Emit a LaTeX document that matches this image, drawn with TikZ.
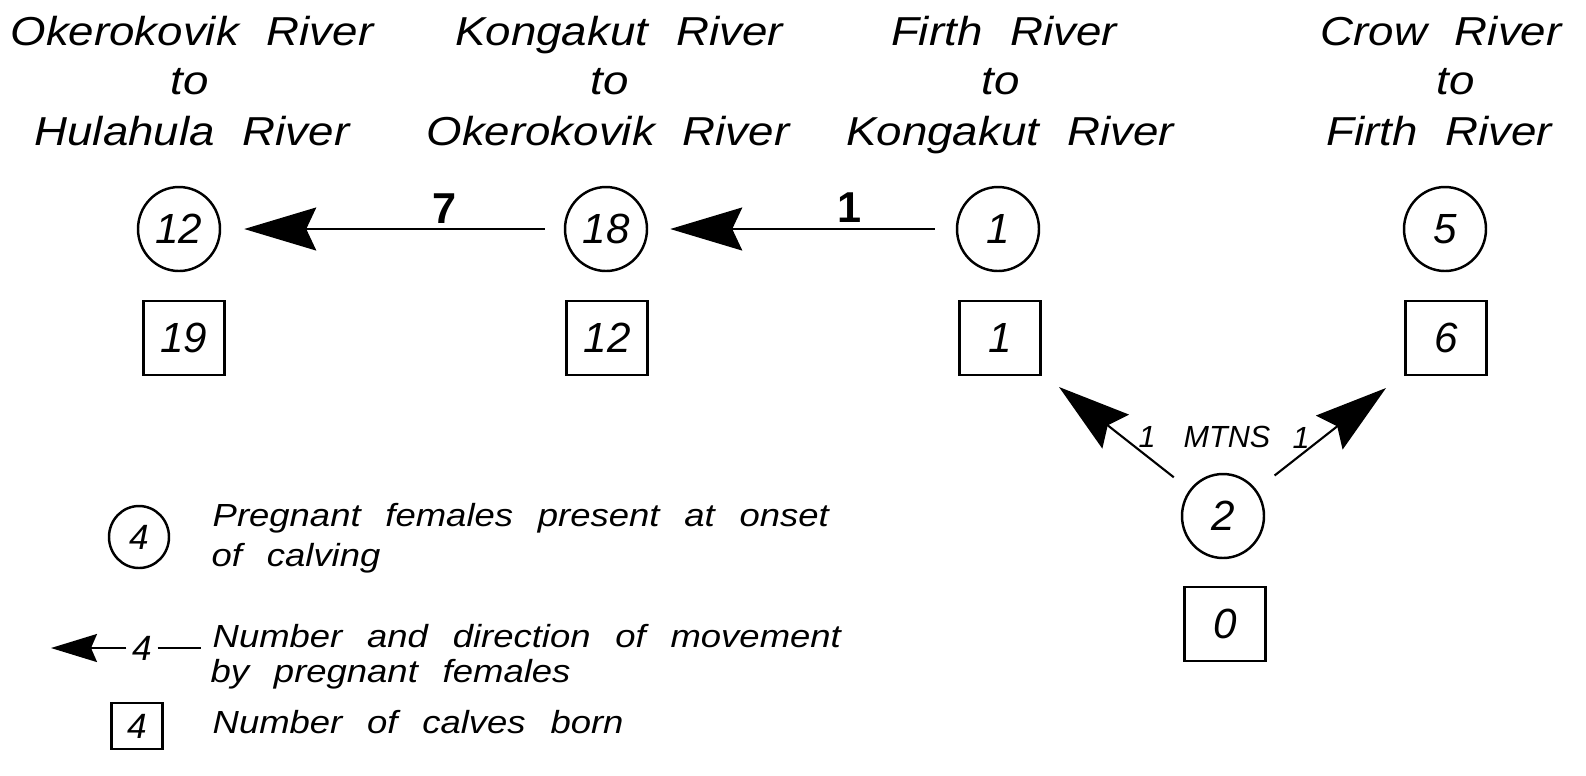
\documentclass[tikz,border=0pt]{standalone}
\usepackage{fontspec}
\setmainfont{Liberation Sans}
\newfontfamily\lf{Liberation Sans}[FakeStretch=1.14, WordSpace=2.45]
\newfontfamily\tf{Liberation Sans}[FakeStretch=1.13, WordSpace=2.2]
\usetikzlibrary{arrows.meta,shapes.geometric}
\begin{document}
\begin{tikzpicture}[x=0.1mm,y=-0.1mm,
  ttl/.style={font=\tf\itshape\fontsize{11.5}{14}\selectfont, inner sep=0, anchor=base},
  leg/.style={font=\lf\itshape\fontsize{9.1}{11}\selectfont, inner sep=0, anchor=base west},
  num/.style={draw, line width=0.7pt, ellipse, minimum width=8.2mm, minimum height=8.4mm, inner sep=0, font=\itshape\fontsize{12}{14}\selectfont},
  cnt/.style={draw, line width=0.7pt, rectangle, minimum width=8.1mm, minimum height=7.4mm, inner sep=0, font=\itshape\fontsize{12}{14}\selectfont},
  mv/.style={line width=0.6pt, -{Stealth[length=7.2mm,width=4.3mm,inset=1mm]}},
  mvs/.style={line width=0.6pt, -{Stealth[length=4.6mm,width=2.8mm,inset=0.6mm]}},
  cntlbl/.style={font=\bfseries\fontsize{12.3}{14}\selectfont, inner sep=0, anchor=base},
  mtn/.style={font=\itshape\fontsize{8.7}{10}\selectfont, inner sep=0}
]
\useasboundingbox (0,0) rectangle (1586,775);

% column titles
\node[ttl] (t1a) at (192,45) {Okerokovik River};
\node[ttl] (t1b) at (190,94) {to};
\node[ttl] (t1c) at (192,145) {Hulahula River};
\node[ttl] (t2a) at (619,45) {Kongakut River};
\node[ttl] (t2b) at (610,94) {to};
\node[ttl] (t2c) at (608,145) {Okerokovik River};
\node[ttl] (t3a) at (1004,45) {Firth River};
\node[ttl] (t3b) at (1001,94) {to};
\node[ttl] (t3c) at (1010,145) {Kongakut River};
\node[ttl] (t4a) at (1441,45) {Crow River};
\node[ttl] (t4b) at (1456,94) {to};
\node[ttl] (t4c) at (1439,145) {Firth River};

% pregnant females
\node[num] (c12) at (179,229) {12};
\node[num] (c18) at (606,229) {18};
\node[num] (c1)  at (998,229) {1};
\node[num] (c5)  at (1445,229) {5};
\node[num] (c2)  at (1223,516) {2};

% calves born
\node[cnt] (b19) at (184,338) {19};
\node[cnt] (b12) at (607,338) {12};
\node[cnt] (b1)  at (1000,338) {1};
\node[cnt] (b6)  at (1446,338) {6};
\node[cnt] (b0)  at (1225,624) {0};

% movements
\draw[mv, shorten <=1.9mm, shorten >=2.3mm] (c18) -- (c12);
\node[cntlbl] (m7) at (445,223) {7};
\draw[mv, shorten <=2.1mm, shorten >=2.2mm] (c1) -- (c18);
\node[cntlbl] (m1) at (850,222) {1};

\coordinate (tipL) at (1059,387);
\coordinate (tipR) at (1386,388);
\draw[mv, shorten <=2mm] (c2) -- (tipL);
\draw[mv, shorten <=2.3mm] (c2) -- (tipR);
\node[mtn] (ml) at (1147,437) {1};
\node[mtn] (mt) at (1227,437) {MTNS};
\node[mtn] (mr) at (1301,438) {1};

% legend
\node[num, minimum width=6mm, minimum height=6.2mm, font=\itshape\fontsize{10}{12}\selectfont] (lc) at (139,537) {4};
\node[leg] (lt1) at (212,526) {Pregnant females present at onset};
\node[leg] (lt2) at (211,566) {of calving};

\coordinate (lat) at (51,648);
\coordinate (lae) at (201,648);
\node[font=\itshape\fontsize{10}{12}\selectfont, inner sep=1.5pt] (l4) at (142,648) {4};
\draw[mvs] (l4) -- (lat);
\draw[line width=0.6pt] (l4) -- (lae);
\node[leg] (lt3) at (212,647) {Number and direction of movement};
\node[leg] (lt4) at (210,682) {by pregnant females};

\node[cnt, minimum width=5.1mm, minimum height=4.6mm, font=\itshape\fontsize{10}{12}\selectfont] (lb) at (137,726) {4};
\node[leg] (lt5) at (212,733) {Number of calves born};
\end{tikzpicture}
\end{document}
